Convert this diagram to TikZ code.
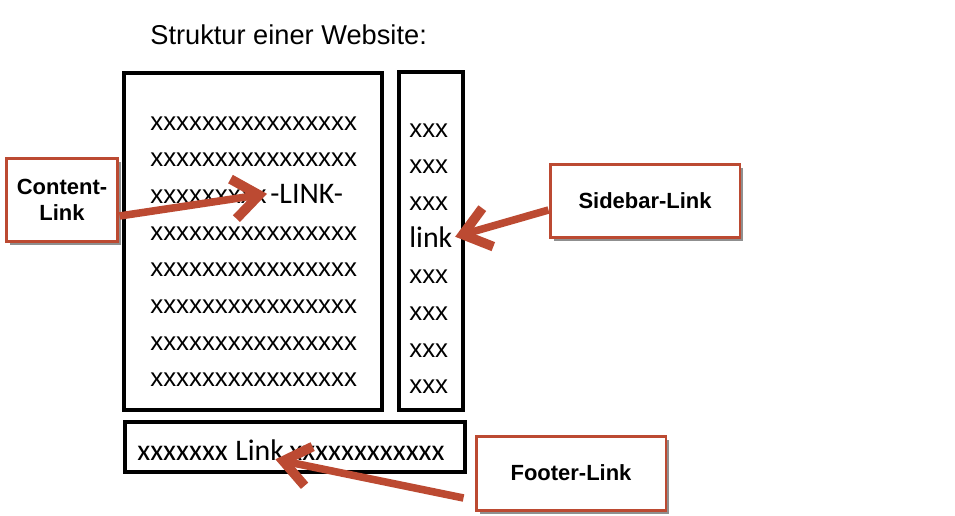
\documentclass[tikz,border=0pt]{standalone}
\usepackage{fontspec}
\setmainfont{Liberation Sans}
\newfontfamily\calfont{Carlito}
\usetikzlibrary{arrows.meta,shadows}
\definecolor{calloutred}{RGB}{188,74,50}
\newcommand{\mainX}{150}
\newcommand{\sideX}{409}
\newcommand{\rowH}{36.7}

\tikzset{
  webbox/.style={line width=2.6pt},
  fillrow/.style={anchor=base west, inner sep=0pt, font=\fontsize{14.7}{16}\selectfont},
  linkrow/.style={anchor=base west, inner sep=0pt, font=\calfont\fontsize{17}{19}\selectfont},
  callout/.style={draw=calloutred, line width=1.7pt, fill=white, align=center,
    font=\bfseries\fontsize{12.5}{15}\selectfont,
    drop shadow={shadow xshift=0.07cm, shadow yshift=-0.07cm, fill=black!55, opacity=0.8}},
  linkarrow/.style={draw=calloutred, line width=4.3pt,
    -{Straight Barb[length=0.52cm, width=0.8cm, line width=5.5pt]}}
}

\begin{document}
\begin{tikzpicture}[x=0.02cm, y=-0.02cm]
\useasboundingbox (0,0) rectangle (955,515);

		\node[anchor=base west, inner sep=0pt, font=\fontsize{15.5}{18}\selectfont] (title) at (150,44) {Struktur einer Website:};
		% Content
		\draw[webbox] (124,73) rectangle (382,410);
		\foreach \i in {0,1,3,4,5,6,7}
			\node[fillrow] (main\i) at (\mainX, 130 + \i*\rowH) {xxxxxxxxxxxxxxxx};
		\node[fillrow] (main2) at (\mainX, 130 + 2*\rowH) {xxxxxxxxx};
		\node[linkrow] (contentword) at (270, 130 + 2*\rowH) {-LINK-};
		% Sidebar
		\draw[webbox] (399,72) rectangle (463,410);
		\foreach \i in {0,1,2,4,5,6,7}
			\node[fillrow] (side\i) at (\sideX, 137 + \i*\rowH) {xxx};
		\node[linkrow] (sideword) at (\sideX, 137 + 3*\rowH) {link};
		% Footer
		\draw[webbox] (125,422) rectangle (465,472);
		\node[linkrow] (footA) at (137,460) {xxxxxxx};
		\node[linkrow] (footword) at (235,460) {Link};
		\node[linkrow] (footB) at (289,460) {xxxxxxxxxxxx};
		% Callouts
		\node[callout, minimum width=2.24cm, minimum height=1.66cm] (contentlink) at (62,200) {Content-\\Link};
		\node[callout, minimum width=3.8cm, minimum height=1.46cm] (sidebarlink) at (645,201) {Sidebar-Link};
		\node[callout, minimum width=3.8cm, minimum height=1.48cm] (footerlink) at (571,473) {Footer-Link};
		%
		\draw[linkarrow] ([yshift=-0.32cm]contentlink.east) -- ([xshift=-0.06cm]contentword.west);
		\draw[linkarrow] ([yshift=-0.18cm]sidebarlink.west) -- ([xshift=0.05cm]sideword.east);
		\draw[linkarrow] ([xshift=-0.22cm, yshift=-0.5cm]footerlink.west) -- ([xshift=-0.18cm, yshift=0.02cm]footword.south east);
	\end{tikzpicture}
\end{document}
